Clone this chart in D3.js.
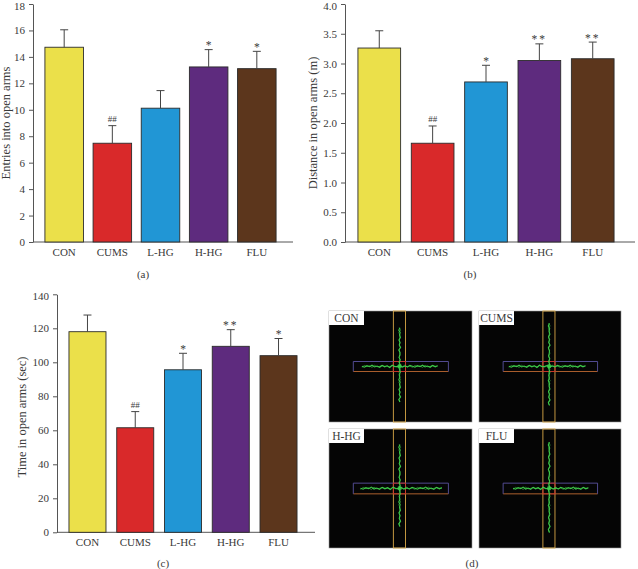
<!DOCTYPE html>
<html><head><meta charset="utf-8">
<script src="https://cdn.jsdelivr.net/npm/d3@7"></script>
<style>
body{margin:0;background:#fff}
svg{display:block}
text{font-family:"Liberation Serif","Times New Roman",serif;fill:#3a3a3a}
</style>
</head><body><svg id="c" width="638" height="569"></svg>
<script>
// ---------- data ----------
const categories = ["CON", "CUMS", "L-HG", "H-HG", "FLU"];
const barColors = ["#ebe04a", "#d9292a", "#2196d5", "#5e2b7e", "#5c361c"];

const entriesMean = [14.73, 7.47, 10.12, 13.24, 13.11];
const entriesErr  = [1.32, 1.33, 1.33, 1.31, 1.31];
const entriesSig  = ["", "##", "", "*", "*"];
const entriesTicks = [0, 2, 4, 6, 8, 10, 12, 14, 16, 18];

const distanceMean = [3.26, 1.66, 2.69, 3.05, 3.08];
const distanceErr  = [0.29, 0.29, 0.28, 0.28, 0.28];
const distanceSig  = ["", "##", "*", "**", "**"];
const distanceTicks = [0, 0.5, 1.0, 1.5, 2.0, 2.5, 3.0, 3.5, 4.0];

const timeMean = [118, 61.5, 95.6, 109.4, 103.9];
const timeErr  = [9.8, 9.5, 9.7, 9.8, 10.1];
const timeSig  = ["", "##", "*", "**", "*"];
const timeTicks = [0, 20, 40, 60, 80, 100, 120, 140];

// panel (d): tracking traces, reach along the arms (percent of arena frame)
const trackGroups = ["CON", "CUMS", "H-HG", "FLU"];
const traceLeft   = [23, 21, 22, 24];
const traceRight  = [76, 75, 79, 77];
const traceTop    = [15, 11, 13, 11];
const traceBottom = [82, 85, 82, 87];
const wiggle = [0, 0.9, -0.6, 0.4, -1.1, 0.7, -0.2, 1.0, -0.8, 0.3, -0.5, 1.2, -1.0, 0.5, 0.1, -0.7, 0.8, -0.3, 0.6, -0.9];

// ---------- drawing ----------
const svg = d3.select("#c");

function barPanel(cfg) {
  const g = svg.append("g");
  const x = d3.scaleBand().domain(categories).range(cfg.band).paddingInner(cfg.pad).paddingOuter(cfg.pad / 2);
  const y = d3.scaleLinear().domain([0, cfg.yMax]).range([cfg.y0, cfg.yTop]);

  // y axis
  const ax = g.append("g").attr("transform", `translate(${cfg.axisX},0)`)
    .call(d3.axisLeft(y).tickValues(cfg.ticks).tickSize(4).tickSizeOuter(0).tickPadding(4).tickFormat(cfg.fmt));
  ax.selectAll("path,line").attr("stroke", "#555").attr("stroke-width", 1);
  ax.selectAll("text").attr("font-size", 11).attr("fill", "#3a3a3a")
    .style("font-family", '"Liberation Serif",serif');
  // keep the top tick label inside the picture
  ax.selectAll(".tick").filter(d => d === cfg.yMax).select("text").attr("dy", "0.5em");

  // x axis baseline
  g.append("line").attr("x1", cfg.axisX).attr("x2", cfg.axisEnd)
    .attr("y1", cfg.y0).attr("y2", cfg.y0).attr("stroke", "#555");

  // bars
  g.selectAll("rect.bar").data(categories).join("rect")
    .attr("x", d => x(d)).attr("width", x.bandwidth())
    .attr("y", (d, i) => y(cfg.mean[i])).attr("height", (d, i) => cfg.y0 - y(cfg.mean[i]))
    .attr("fill", (d, i) => barColors[i]).attr("stroke", "#2b2b2b").attr("stroke-width", 0.9);

  // error bars
  categories.forEach((c, i) => {
    const cx = x(c) + x.bandwidth() / 2;
    const yt = y(cfg.mean[i] + cfg.err[i]);
    g.append("line").attr("x1", cx).attr("x2", cx).attr("y1", y(cfg.mean[i])).attr("y2", yt)
      .attr("stroke", "#444").attr("stroke-width", 1);
    g.append("line").attr("x1", cx - 4).attr("x2", cx + 4).attr("y1", yt).attr("y2", yt)
      .attr("stroke", "#444").attr("stroke-width", 1);
    const s = cfg.sig[i];
    if (s) {
      const isHash = s[0] === "#";
      g.append("text").attr("x", cx).attr("y", yt - (isHash ? 4 : 0.5))
        .attr("text-anchor", "middle").attr("font-size", isHash ? 9 : 11.5)
        .attr("letter-spacing", s === "**" ? 2 : 0)
        .attr("fill", "#555").text(s);
    }
    g.append("text").attr("x", cx).attr("y", cfg.catY).attr("text-anchor", "middle")
      .attr("font-size", 11).text(c);
  });

  // y title
  g.append("text").attr("transform", `translate(${cfg.titleX},${cfg.titleY}) rotate(-90)`)
    .attr("text-anchor", "middle").attr("font-size", 12.5).text(cfg.title);
  // panel label
  g.append("text").attr("x", cfg.labelX).attr("y", cfg.labelY).attr("text-anchor", "middle")
    .attr("font-size", 11).text(cfg.label);
}

barPanel({axisX: 33, axisEnd: 293, band: [40.1, 280.9], pad: 0.2, y0: 242, yTop: 4, yMax: 18,
  ticks: entriesTicks, fmt: d3.format("d"), mean: entriesMean, err: entriesErr, sig: entriesSig,
  title: "Entries into open arms", titleX: 10, titleY: 123, label: "(a)", labelX: 143, labelY: 278, catY: 256});

barPanel({axisX: 345, axisEnd: 635, band: [352.6, 619.4], pad: 0.2, y0: 242, yTop: 4, yMax: 4,
  ticks: distanceTicks, fmt: d3.format(".1f"), mean: distanceMean, err: distanceErr, sig: distanceSig,
  title: "Distance in open arms (m)", titleX: 317, titleY: 123, label: "(b)", labelX: 470, labelY: 278, catY: 256});

barPanel({axisX: 57, axisEnd: 315, band: [63.6, 302.4], pad: 0.225, y0: 532.3, yTop: 294.3, yMax: 140,
  ticks: timeTicks, fmt: d3.format("d"), mean: timeMean, err: timeErr, sig: timeSig,
  title: "Time in open arms (sec)", titleX: 26, titleY: 417, label: "(c)", labelX: 163, labelY: 567, catY: 546});

// ---------- panel (d) ----------
const boxes = [
  {x: 329, y: 311, w: 143, h: 111},
  {x: 479, y: 311, w: 142, h: 111},
  {x: 329, y: 429, w: 143, h: 119},
  {x: 479, y: 429, w: 142, h: 119}
];
const line = d3.line();
trackGroups.forEach((name, i) => {
  const b = boxes[i];
  const sx = d3.scaleLinear().domain([0, 100]).range([b.x, b.x + b.w]);
  const sy = d3.scaleLinear().domain([0, 100]).range([b.y, b.y + b.h]);
  const g = svg.append("g");
  g.append("rect").attr("x", b.x).attr("y", b.y).attr("width", b.w).attr("height", b.h)
    .attr("fill", "#050505").attr("stroke", "#9a9a9a").attr("stroke-width", 0.6);
  // closed (vertical) arm outline
  g.append("rect").attr("x", sx(45)).attr("y", sy(0)).attr("width", sx(53.5) - sx(45)).attr("height", sy(100) - sy(0))
    .attr("fill", "none").attr("stroke", "#d9a848").attr("stroke-width", 0.9);
  // open (horizontal) arm outline
  g.append("line").attr("x1", sx(17)).attr("x2", sx(83.5)).attr("y1", sy(45.5)).attr("y2", sy(45.5))
    .attr("stroke", "#5a52a0").attr("stroke-width", 0.9);
  g.append("line").attr("x1", sx(17)).attr("x2", sx(83.5)).attr("y1", sy(54.5)).attr("y2", sy(54.5))
    .attr("stroke", "#c06a32").attr("stroke-width", 0.9);
  g.append("line").attr("x1", sx(17)).attr("x2", sx(17)).attr("y1", sy(45.5)).attr("y2", sy(54.5))
    .attr("stroke", "#5a52a0").attr("stroke-width", 0.9);
  g.append("line").attr("x1", sx(83.5)).attr("x2", sx(83.5)).attr("y1", sy(45.5)).attr("y2", sy(54.5))
    .attr("stroke", "#5a52a0").attr("stroke-width", 0.9);
  g.append("rect").attr("x", sx(45)).attr("y", sy(45.5)).attr("width", sx(53.5) - sx(45)).attr("height", sy(54.5) - sy(45.5))
    .attr("fill", "none").attr("stroke", "#c8322a").attr("stroke-width", 0.9);

  // green traces (two passes each arm)
  [0, 7].forEach((phase, p) => {
    const n = 30;
    const hPts = d3.range(n + 1).map(k => [
      sx(traceLeft[i] + (traceRight[i] - traceLeft[i]) * k / n),
      sy(49.8 + 0.9 * wiggle[(k + phase) % wiggle.length])
    ]);
    const vPts = d3.range(n + 1).map(k => [
      sx(49.4 + 0.55 * wiggle[(k + phase + 3) % wiggle.length]),
      sy(traceTop[i] + (traceBottom[i] - traceTop[i]) * k / n)
    ]);
    g.append("path").attr("d", line(hPts)).attr("fill", "none")
      .attr("stroke", "#3fd04c").attr("stroke-width", p ? 0.8 : 1.1).attr("stroke-opacity", p ? 0.7 : 0.95);
    g.append("path").attr("d", line(vPts)).attr("fill", "none")
      .attr("stroke", "#3fd04c").attr("stroke-width", p ? 0.8 : 1.1).attr("stroke-opacity", p ? 0.7 : 0.95);
  });
  g.append("circle").attr("cx", sx(49.4)).attr("cy", sy(49.8)).attr("r", 2.2)
    .attr("fill", "#3fd04c").attr("fill-opacity", 0.8);

  // label box
  const lw = 35;
  g.append("rect").attr("x", b.x).attr("y", b.y).attr("width", lw).attr("height", 14).attr("fill", "#fff");
  g.append("text").attr("x", b.x + lw / 2).attr("y", b.y + 11).attr("text-anchor", "middle")
    .attr("font-size", 11.5).text(name);
});
svg.append("text").attr("x", 472).attr("y", 567).attr("text-anchor", "middle").attr("font-size", 11).text("(d)");
</script></body></html>
